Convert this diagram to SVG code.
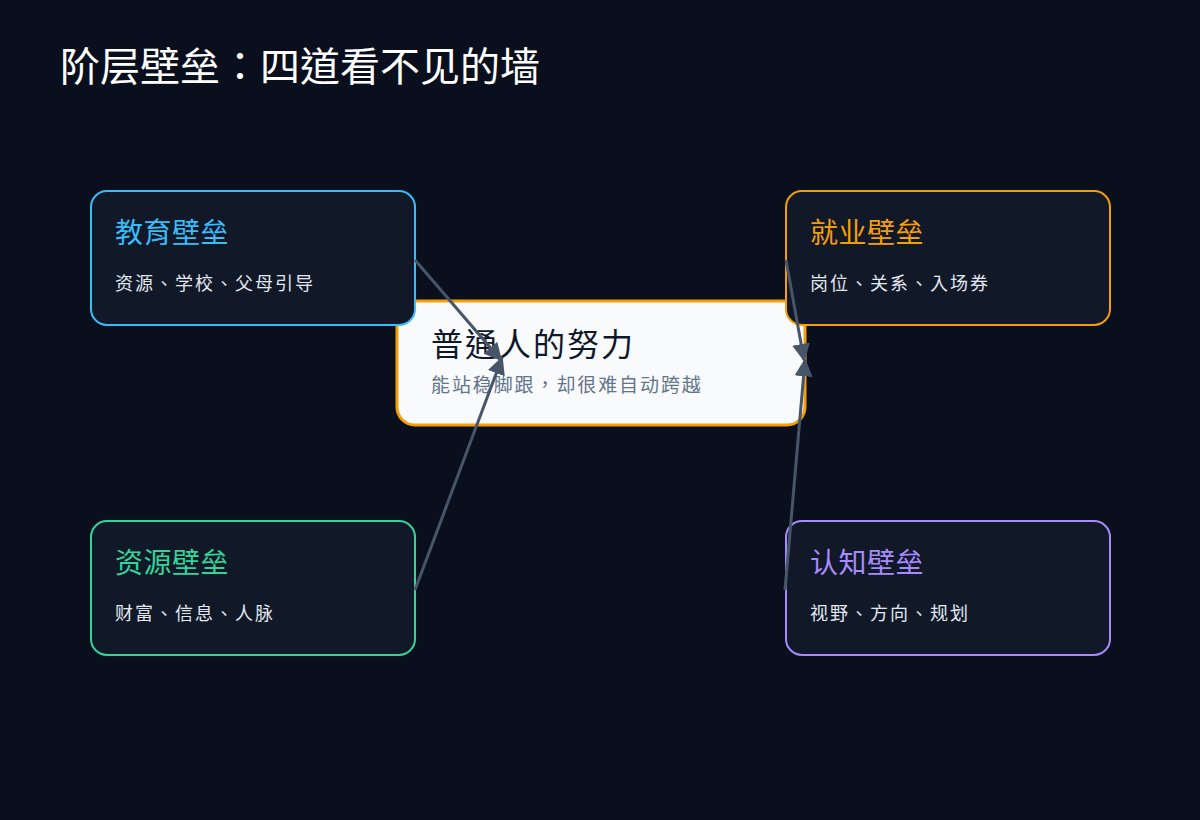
<svg xmlns="http://www.w3.org/2000/svg" width="1200" height="820" viewBox="0 0 1200 820">
<defs>
<style>
.cjk{font-family:"Noto Sans CJK TC","Noto Sans CJK SC",sans-serif}
.card{fill:#111827;stroke-width:2}
.t{font-size:28px;letter-spacing:0.5px}
.s{font-size:18px;fill:#e2e8f0;letter-spacing:2px}
.conn{stroke:#475569;stroke-width:3;fill:none}
</style>
<marker id="ah" viewBox="0 0 10 10" refX="9" refY="5" markerWidth="6" markerHeight="6" markerUnits="strokeWidth" orient="auto">
<path d="M0,0 L10,5 L0,10 z" fill="#475569"/>
</marker>
</defs>
<rect width="1200" height="820" fill="#0a0f1e"/>
<text class="cjk" x="60" y="81" font-size="40" fill="#ffffff">阶层壁垒：四道看不见的墙</text>
<g id="center">
<rect x="397" y="301" width="408" height="124" rx="18" fill="#f8fafc" stroke="#f59e0b" stroke-width="3"/>
<text class="cjk" x="431" y="356" font-size="32" fill="#0f172a" letter-spacing="2">普通人的努力</text>
<text class="cjk" x="431" y="392" font-size="19" fill="#64748b" letter-spacing="1.9">能站稳脚跟，却很难自动跨越</text>
</g>
<g id="edu">
<rect class="card" x="91" y="191" width="324" height="134" rx="16" stroke="#38bdf8"/>
<text class="cjk t" x="115" y="243" fill="#38bdf8">教育壁垒</text>
<text class="cjk s" x="115" y="290">资源、学校、父母引导</text>
</g>
<g id="job">
<rect class="card" x="786" y="191" width="324" height="134" rx="16" stroke="#f59e0b"/>
<text class="cjk t" x="810" y="243" fill="#f59e0b">就业壁垒</text>
<text class="cjk s" x="810" y="290">岗位、关系、入场券</text>
</g>
<g id="res">
<rect class="card" x="91" y="521" width="324" height="134" rx="16" stroke="#34d399"/>
<text class="cjk t" x="115" y="573" fill="#34d399">资源壁垒</text>
<text class="cjk s" x="115" y="620">财富、信息、人脉</text>
</g>
<g id="cog">
<rect class="card" x="786" y="521" width="324" height="134" rx="16" stroke="#a78bfa"/>
<text class="cjk t" x="810" y="573" fill="#a78bfa">认知壁垒</text>
<text class="cjk s" x="810" y="620">视野、方向、规划</text>
</g>
<g id="connectors">
<line class="conn" x1="415" y1="260" x2="501" y2="360" marker-end="url(#ah)"/>
<line class="conn" x1="415" y1="590" x2="502" y2="358" marker-end="url(#ah)"/>
<line class="conn" x1="786" y1="260" x2="804" y2="360" marker-end="url(#ah)"/>
<line class="conn" x1="785" y1="590" x2="805" y2="360" marker-end="url(#ah)"/>
</g>
</svg>
